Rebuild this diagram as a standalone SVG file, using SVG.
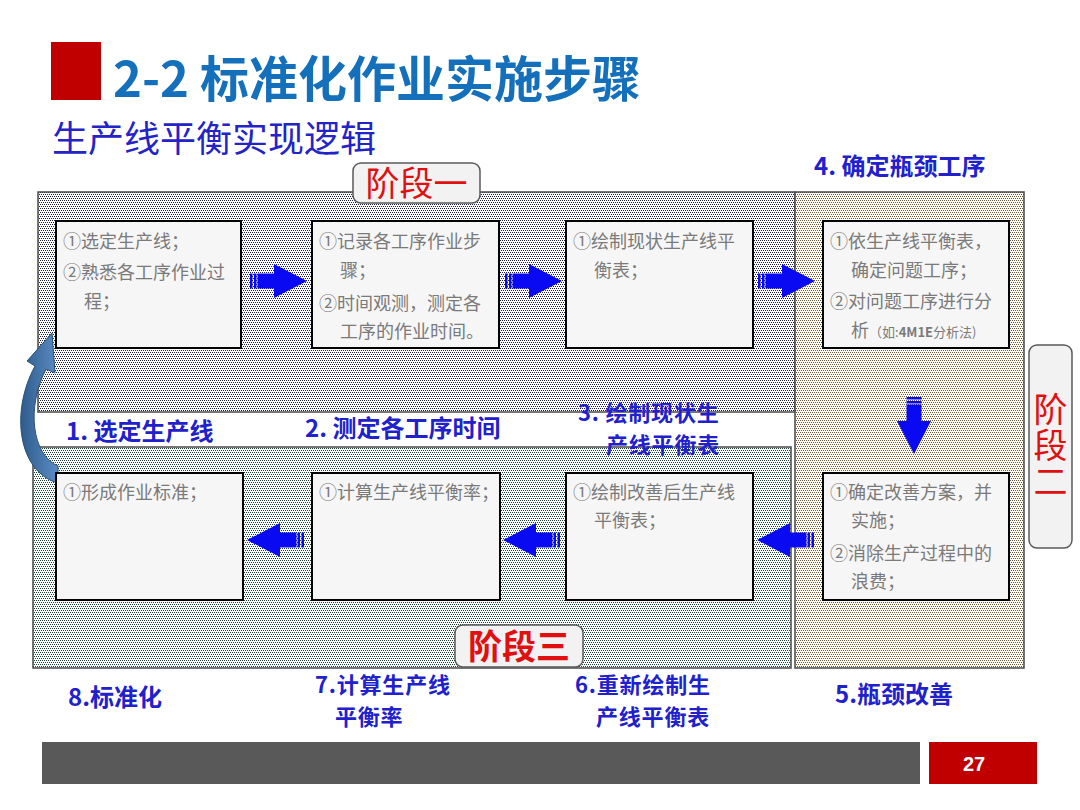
<svg xmlns="http://www.w3.org/2000/svg" width="1080" height="810" viewBox="0 0 1080 810">
<style>
.title{font-family:"Noto Sans CJK SC","Liberation Sans",sans-serif;font-weight:700;font-size:49px;fill:#1570BC}
.sub{font-family:"Noto Sans CJK SC","Liberation Sans",sans-serif;font-size:36px;fill:#2323C8}
.step{font-family:"Noto Sans CJK SC","Liberation Sans",sans-serif;font-weight:700;font-size:24px;fill:#2020CC}
.step2{font-size:22px;letter-spacing:0.8px}
.bt{font-family:"Noto Sans CJK SC","Liberation Sans",sans-serif;font-size:18px;fill:#7a7a7a}
.bts{font-size:13px}
.box{fill:#F6F6F6;stroke:#000;stroke-width:2}
.stagebox{fill:#F2F2F2;stroke:#595959;stroke-width:1.5}
.stg{font-family:"Noto Sans CJK SC","Liberation Sans",sans-serif;font-size:34px;fill:#E01010}
.region{stroke:#4a4a4a;stroke-width:1.5}
.arr{fill:#0A0AF2}
</style>
<defs>
<pattern id="dot1" width="4" height="4" patternUnits="userSpaceOnUse">
<rect width="4" height="4" fill="#ffffff"/>
<rect x="0" y="0" width="1" height="1" fill="#1c1c48"/>
<rect x="2" y="0" width="1" height="1" fill="#1c1c48"/>
<rect x="1" y="2" width="1" height="1" fill="#1c1c48"/>
<rect x="3" y="2" width="1" height="1" fill="#1c1c48"/>
</pattern>
<pattern id="dot2" width="4" height="4" patternUnits="userSpaceOnUse">
<rect width="4" height="4" fill="#fefcf6"/>
<rect x="0" y="0" width="1" height="1" fill="#6e5834"/>
<rect x="2" y="0" width="1" height="1" fill="#6e5834"/>
<rect x="1" y="2" width="1" height="1" fill="#6e5834"/>
<rect x="3" y="2" width="1" height="1" fill="#6e5834"/>
</pattern>
<pattern id="dot3" width="4" height="4" patternUnits="userSpaceOnUse">
<rect width="4" height="4" fill="#ffffff"/>
<rect x="0" y="0" width="1" height="1" fill="#164436"/>
<rect x="2" y="0" width="1" height="1" fill="#164436"/>
<rect x="1" y="2" width="1" height="1" fill="#164436"/>
<rect x="3" y="2" width="1" height="1" fill="#164436"/>
</pattern>
<linearGradient id="curveGrad" x1="0" y1="0" x2="1" y2="0">
<stop offset="0" stop-color="#2F5C8C"/>
<stop offset="1" stop-color="#5B8CC4"/>
</linearGradient>
<g id="arrowR">
<rect x="0" y="-7.5" width="2.5" height="15" class="arr"/>
<rect x="4" y="-7.5" width="2.5" height="15" class="arr"/>
<rect x="7.5" y="-7.5" width="17" height="15" class="arr"/>
<polygon points="24,-17 57,0 24,17" class="arr"/>
</g>
</defs>

<rect width="1080" height="810" fill="#ffffff"/>

<!-- Header -->
<g id="header">
<rect x="51" y="42" width="50" height="58" fill="#C00000"/>
<text x="113" y="97" class="title">2-2 标准化作业实施步骤</text>
<text x="52" y="152" class="sub">生产线平衡实现逻辑</text>
</g>

<!-- Stage regions -->
<g id="regions">
<rect id="stage1-region" x="38" y="192" width="757" height="220" fill="url(#dot1)" class="region"/>
<rect id="stage2-region" x="795" y="192" width="229" height="476" fill="url(#dot2)" class="region"/>
<rect id="stage3-region" x="33" y="447" width="758" height="221" fill="url(#dot3)" class="region"/>
</g>

<!-- Connectors -->
<g id="connectors">
<use href="#arrowR" transform="translate(250,281)"/>
<use href="#arrowR" transform="translate(505,281)"/>
<use href="#arrowR" transform="translate(758,281)"/>
<use href="#arrowR" transform="translate(914,397) rotate(90)"/>
<use href="#arrowR" transform="translate(814,540) scale(-1,1)"/>
<use href="#arrowR" transform="translate(560,540) scale(-1,1)"/>
<use href="#arrowR" transform="translate(304,540) scale(-1,1)"/>
<path id="loop-arrow" d="M58 483 C18 472 10 412 35 366 L27 361 L52 333 L55 373 L46 369 C26 408 32 455 58 466 Z" fill="url(#curveGrad)" stroke="#2A4F78" stroke-width="1"/>
</g>

<!-- Row 1 nodes -->
<g id="node1">
<rect x="56" y="221" width="185" height="127" class="box"/>
<text class="bt"><tspan x="63" y="248">①选定生产线；</tspan><tspan x="63" y="279">②熟悉各工序作业过</tspan><tspan x="84" y="308">程；</tspan></text>
</g>
<g id="node2">
<rect x="312" y="221" width="187" height="127" class="box"/>
<text class="bt"><tspan x="319" y="248">①记录各工序作业步</tspan><tspan x="340" y="277">骤；</tspan><tspan x="319" y="310">②时间观测，测定各</tspan><tspan x="340" y="338">工序的作业时间。</tspan></text>
</g>
<g id="node3">
<rect x="566" y="221" width="187" height="127" class="box"/>
<text class="bt"><tspan x="573" y="248">①绘制现状生产线平</tspan><tspan x="594" y="277">衡表；</tspan></text>
</g>
<g id="node4">
<rect x="823" y="221" width="186" height="127" class="box"/>
<text class="bt"><tspan x="830" y="248">①依生产线平衡表，</tspan><tspan x="851" y="277">确定问题工序；</tspan><tspan x="830" y="308">②对问题工序进行分</tspan><tspan x="851" y="337">析<tspan class="bts">（如:<tspan font-weight="700">4M1E</tspan>分析法)</tspan></tspan></text>
</g>

<!-- Row 2 nodes -->
<g id="node8">
<rect x="56" y="473" width="187" height="127" class="box"/>
<text class="bt"><tspan x="63" y="499">①形成作业标准；</tspan></text>
</g>
<g id="node7">
<rect x="312" y="473" width="188" height="127" class="box"/>
<text class="bt"><tspan x="319" y="499">①计算生产线平衡率；</tspan></text>
</g>
<g id="node6">
<rect x="566" y="473" width="187" height="127" class="box"/>
<text class="bt"><tspan x="573" y="499">①绘制改善后生产线</tspan><tspan x="594" y="527">平衡表；</tspan></text>
</g>
<g id="node5">
<rect x="823" y="473" width="186" height="127" class="box"/>
<text class="bt"><tspan x="830" y="499">①确定改善方案，并</tspan><tspan x="851" y="527">实施；</tspan><tspan x="830" y="560">②消除生产过程中的</tspan><tspan x="851" y="588">浪费；</tspan></text>
</g>

<!-- Stage labels -->
<g id="stage1-label">
<rect x="353" y="163" width="127" height="40" rx="8" class="stagebox"/>
<text x="416.5" y="196" class="stg" text-anchor="middle">阶段一</text>
</g>
<g id="stage3-label">
<rect x="455" y="625" width="128" height="42" rx="8" class="stagebox"/>
<text x="519" y="659" class="stg" text-anchor="middle" font-weight="700">阶段三</text>
</g>
<g id="stage2-label">
<rect x="1029" y="345" width="43" height="203" rx="8" class="stagebox"/>
<text x="1050.5" y="392" class="stg" writing-mode="vertical-rl" font-size="34" letter-spacing="2">阶段二</text>
</g>

<!-- Step labels -->
<g id="step-labels">
<text x="814" y="175" class="step" font-size="26">4. 确定瓶颈工序</text>
<text x="66" y="440" class="step">1. 选定生产线</text>
<text x="305" y="437" class="step">2. 测定各工序时间</text>
<text class="step step2"><tspan x="578" y="421">3. 绘制现状生</tspan><tspan x="606" y="453">产线平衡表</tspan></text>
<text x="68" y="706" class="step">8.标准化</text>
<text class="step step2"><tspan x="315" y="693">7.计算生产线</tspan><tspan x="335" y="725">平衡率</tspan></text>
<text class="step step2"><tspan x="575" y="693">6.重新绘制生</tspan><tspan x="596" y="725">产线平衡表</tspan></text>
<text x="835" y="703" class="step">5.瓶颈改善</text>
</g>

<!-- Footer -->
<g id="footer">
<rect x="42" y="742" width="878" height="42" fill="#595959"/>
<rect x="929" y="742" width="108" height="42" fill="#C00000"/>
<text x="974" y="771" font-family="Liberation Sans Narrow, Liberation Sans, sans-serif" font-weight="700" font-size="20" fill="#ffffff" text-anchor="middle">27</text>
</g>
</svg>
